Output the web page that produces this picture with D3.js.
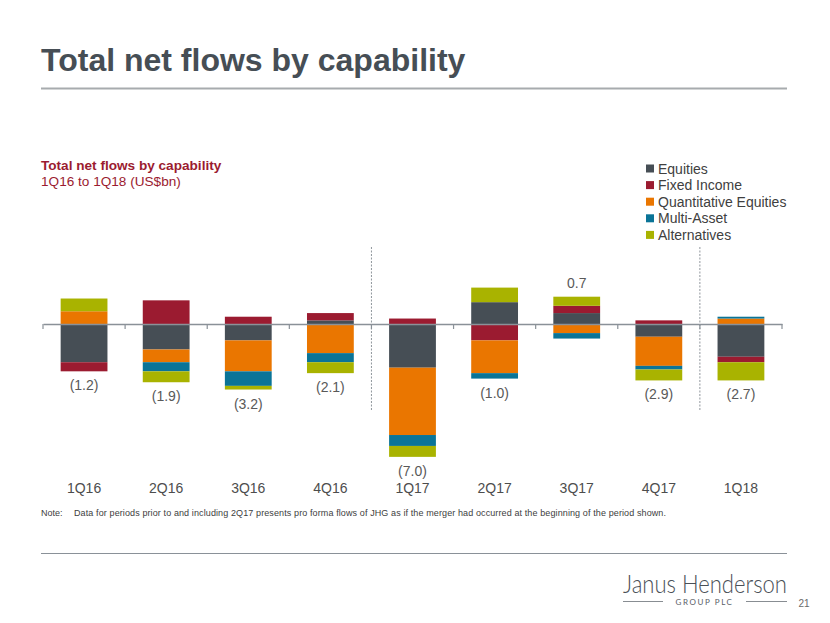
<!DOCTYPE html>
<html>
<head>
<meta charset="utf-8">
<script src="https://cdn.jsdelivr.net/npm/d3@7"></script>
<style>
  html, body { margin: 0; padding: 0; background: #ffffff; }
  svg { display: block; font-family: "Liberation Sans", Arial, sans-serif; }
</style>
</head>
<body>
<svg id="chart" width="830" height="623"></svg>
<script>
// ---- Data (US$bn) ----
const categories = ["1Q16", "2Q16", "3Q16", "4Q16", "1Q17", "2Q17", "3Q17", "4Q17", "1Q18"];
const seriesNames = ["Equities", "Fixed Income", "Quantitative Equities", "Multi-Asset", "Alternatives"];
const equities      = [-2.1, -1.4, -0.9,  0.2, -2.4,  1.2,  0.6, -0.7, -1.8];
const fixedIncome   = [-0.5,  1.3,  0.4,  0.4,  0.3, -0.9,  0.4,  0.2, -0.3];
const quantEquities = [ 0.7, -0.7, -1.7, -1.6, -3.7, -1.8, -0.5, -1.6,  0.3];
const multiAsset    = [ 0.0, -0.5, -0.8, -0.5, -0.6, -0.3, -0.3, -0.2,  0.1];
const alternatives  = [ 0.7, -0.6, -0.2, -0.6, -0.6,  0.8,  0.5, -0.6, -1.0];
const netLabels     = ["(1.2)", "(1.9)", "(3.2)", "(2.1)", "(7.0)", "(1.0)", "0.7", "(2.9)", "(2.7)"];
const colors = ["#464e55", "#9b1b30", "#ea7600", "#0a7497", "#a9b300"];

const seriesValues = [equities, fixedIncome, quantEquities, multiAsset, alternatives];
const rows = categories.map((c, i) => {
  const r = { cat: c };
  seriesNames.forEach((s, k) => r[s] = seriesValues[k][i]);
  return r;
});

const svg = d3.select("#chart");

// ---- Header ----
svg.append("text").attr("x", 41).attr("y", 71)
  .attr("font-size", 32).attr("font-weight", "bold").attr("fill", "#464e55")
  .text("Total net flows by capability");
svg.append("line").attr("x1", 41).attr("x2", 787).attr("y1", 88.5).attr("y2", 88.5)
  .attr("stroke", "#a7abae").attr("stroke-width", 2);

// ---- Chart subtitle ----
svg.append("text").attr("x", 41).attr("y", 170)
  .attr("font-size", 13.6).attr("font-weight", "bold").attr("fill", "#9b1b30")
  .text("Total net flows by capability");
svg.append("text").attr("x", 41).attr("y", 186)
  .attr("font-size", 13.6).attr("fill", "#9b1b30")
  .text("1Q16 to 1Q18 (US$bn)");

// ---- Scales ----
const x = d3.scaleBand().domain(categories).range([43, 782])
  .paddingInner(0.43).paddingOuter(0.215);
const pxPerBn = 18.2, zeroY = 324;
const y = d3.scaleLinear().domain([-8, 2]).range([zeroY + 8 * pxPerBn, zeroY - 2 * pxPerBn]);

const stack = d3.stack().keys(seriesNames).offset(d3.stackOffsetDiverging);
const stacked = stack(rows);

// dashed separators
[[categories[3], categories[4]], [categories[7], categories[8]]].forEach(([a, b]) => {
  const xx = (x(a) + x.bandwidth() + x(b)) / 2;
  svg.append("line").attr("x1", xx).attr("x2", xx).attr("y1", 247).attr("y2", 411)
    .attr("stroke", "#8f969c").attr("stroke-width", 1).attr("stroke-dasharray", "2,1.5");
});

// bars
svg.append("g").selectAll("g").data(stacked).join("g")
  .attr("fill", (d, i) => colors[i])
  .selectAll("rect").data(d => d).join("rect")
  .attr("x", d => x(d.data.cat))
  .attr("width", x.bandwidth())
  .attr("y", d => y(Math.max(d[0], d[1])))
  .attr("height", d => Math.abs(y(d[0]) - y(d[1])));

// axis
const axis = d3.axisBottom(x).tickSize(0).tickFormat("");
const gAxis = svg.append("g").attr("transform", `translate(0,${zeroY})`).call(axis);
gAxis.select(".domain").attr("stroke", "#8a9198").attr("stroke-width", 1.5);
const boundaries = d3.range(categories.length + 1).map(i => 43 + i * x.step());
gAxis.selectAll(".bound").data(boundaries).join("line").attr("class", "bound")
  .attr("x1", d => d).attr("x2", d => d).attr("y1", 0).attr("y2", 5)
  .attr("stroke", "#8a9198").attr("stroke-width", 1.2);

// category labels
svg.append("g").selectAll("text").data(categories).join("text")
  .attr("x", d => x(d) + x.bandwidth() / 2).attr("y", 492.5)
  .attr("text-anchor", "middle").attr("font-size", 14).attr("fill", "#4d4d4d")
  .text(d => d);

// net labels
svg.append("g").selectAll("text").data(categories).join("text")
  .attr("x", d => x(d) + x.bandwidth() / 2)
  .attr("y", (d, i) => {
    const vals = seriesValues.map(s => s[i]);
    const net = d3.sum(vals);
    if (net >= 0) {
      const top = d3.sum(vals.filter(v => v > 0));
      return y(top) - 9;
    } else {
      const bot = d3.sum(vals.filter(v => v < 0));
      return y(bot) + 19;
    }
  })
  .attr("text-anchor", "middle").attr("font-size", 14).attr("fill", "#595959")
  .text((d, i) => netLabels[i]);

// legend
const lg = svg.append("g");
seriesNames.forEach((s, i) => {
  const cy = 168.5 + i * 16.6;
  lg.append("rect").attr("x", 646).attr("y", cy - 4).attr("width", 8).attr("height", 8).attr("fill", colors[i]);
  lg.append("text").attr("x", 658).attr("y", cy + 5).attr("font-size", 14).attr("fill", "#404040").text(s);
});

// note
svg.append("text").attr("x", 41).attr("y", 516).attr("font-size", 9).attr("fill", "#404040").text("Note:");
svg.append("text").attr("x", 74).attr("y", 516).attr("font-size", 9).attr("fill", "#404040")
  .attr("textLength", 592).attr("lengthAdjust", "spacing")
  .text("Data for periods prior to and including 2Q17 presents pro forma flows of JHG as if the merger had occurred at the beginning of the period shown.");

// footer rule
svg.append("line").attr("x1", 41).attr("x2", 787).attr("y1", 553.5).attr("y2", 553.5)
  .attr("stroke", "#8a9198").attr("stroke-width", 1);

// logo
svg.append("text").attr("x", 787).attr("y", 593).attr("text-anchor", "end")
  .attr("font-family", "Lato, 'Open Sans', sans-serif").attr("font-weight", 300)
  .attr("font-size", 24.5).attr("fill", "#4a5057")
  .attr("textLength", 164).attr("lengthAdjust", "spacingAndGlyphs")
  .text("Janus Henderson");
svg.append("line").attr("x1", 623).attr("x2", 663).attr("y1", 601.5).attr("y2", 601.5).attr("stroke", "#6a7076").attr("stroke-width", 0.8);
svg.append("line").attr("x1", 746).attr("x2", 787).attr("y1", 601.5).attr("y2", 601.5).attr("stroke", "#6a7076").attr("stroke-width", 0.8);
svg.append("text").attr("x", 704.5).attr("y", 604.5).attr("text-anchor", "middle")
  .attr("font-family", "Lato, 'Open Sans', sans-serif")
  .attr("font-size", 8).attr("fill", "#5a6066").attr("letter-spacing", 1.6)
  .text("GROUP PLC");
svg.append("text").attr("x", 804).attr("y", 606.5).attr("text-anchor", "middle")
  .attr("font-size", 10).attr("fill", "#6a6a6a").text("21");
</script>
</body>
</html>
